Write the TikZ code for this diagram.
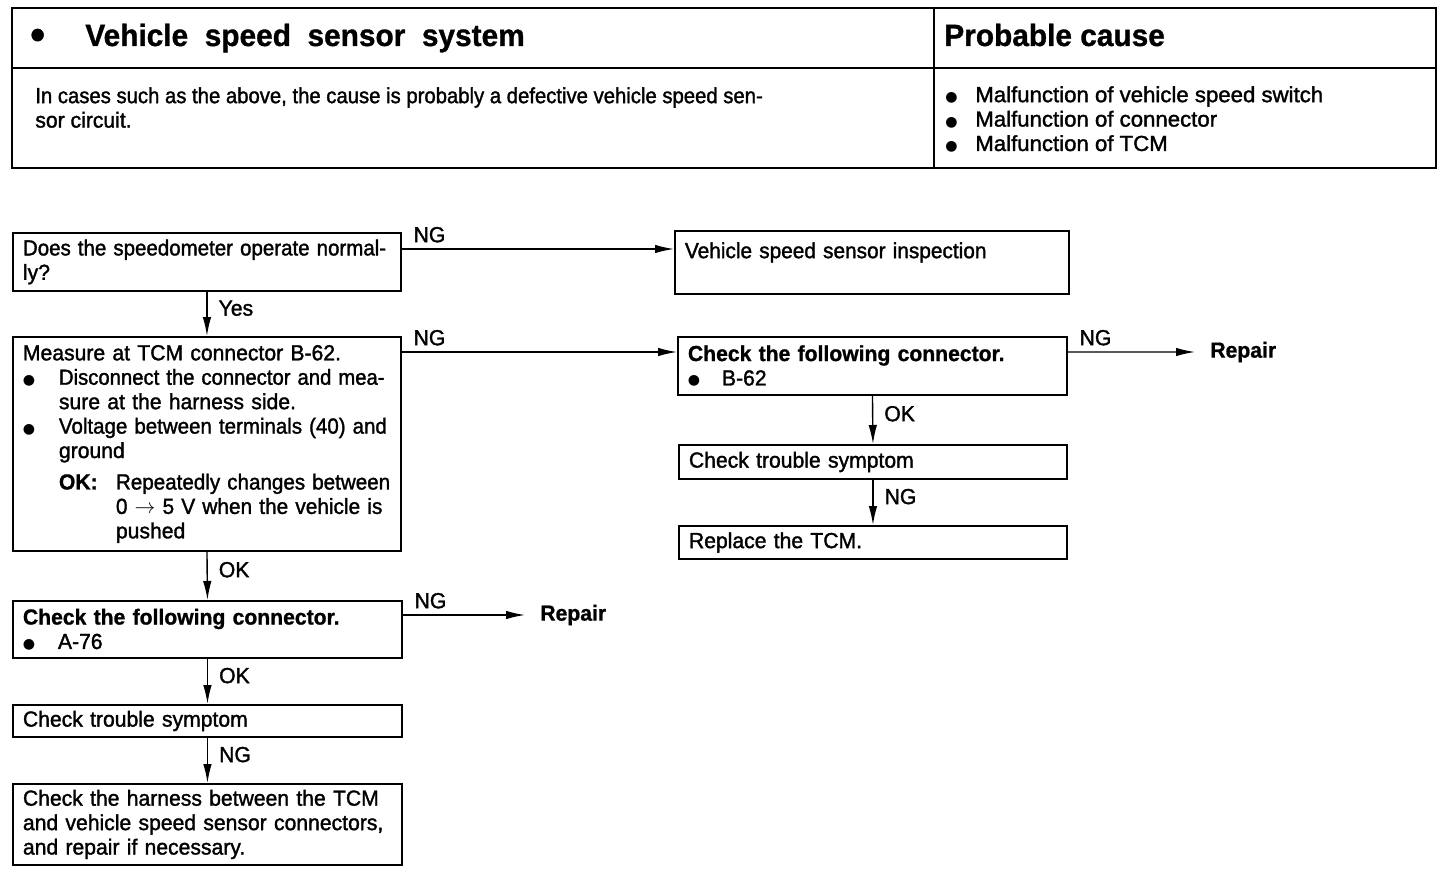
\documentclass[tikz,border=0pt]{standalone}
\usepackage{fontspec}
\setmainfont{Liberation Sans}[FakeStretch=0.97,
  UprightFeatures={FakeBold=1.5}, BoldFeatures={FakeBold=1}]
\newfontfamily\dotfont{DejaVu Sans}
\usetikzlibrary{arrows.meta,calc}

\newcommand{\flowsize}{\fontsize{12.4}{13.9}\selectfont}
\newcommand{\headsize}{\fontsize{17.5}{20}\selectfont\bfseries}
\newcommand{\itembul}[1]{\makebox[#1][l]{\raisebox{0.3pt}{\dotfont\fontsize{8}{8}\selectfont ●}}}
\newcommand{\squeeze}[2]{\scalebox{#1}[1]{#2}}

\tikzset{
  flowbox/.style={draw, line width=1.1pt, anchor=north west, align=left,
    inner xsep=0.2cm, inner ysep=0pt, font=\flowsize},
  flowarrow/.style={-{Latex[length=3.8mm,width=1.7mm]}, line width=0.8pt},
  flowlabel/.style={font=\flowsize, inner xsep=0.22cm},
  tableline/.style={line width=1.6pt},
}

\begin{document}
\begin{tikzpicture}
    \useasboundingbox (0,0) rectangle (29.12,-17.44);

    % Header table
    \draw[tableline] (0.24,-0.16) rectangle (28.72,-3.36);
    \draw[tableline] (0.24,-1.36) -- (28.72,-1.36);
    \draw[tableline] (18.68,-0.16) -- (18.68,-3.36);
    \node[anchor=base west, inner sep=0, font=\headsize] (titledot) at (0.60,-0.92) {\smash{\raisebox{-0.2ex}{\scalebox{1.4}{\textbullet}}}};
    \node[anchor=base west, inner sep=0, font=\headsize] (title) at (1.70,-0.92) {Vehicle\ \ speed\ \ sensor\ \ system};
    \node[anchor=base west, inner sep=0, font=\headsize] (causehead) at (18.88,-0.92) {Probable cause};
    \node[anchor=north west, inner sep=0, align=left, font=\flowsize] (intro) at (0.70,-1.74)
        {\squeeze{0.96}{In cases such as the above, the cause is probably a defective vehicle speed sen-}\\
         sor circuit.};
    \node[anchor=north west, inner sep=0, align=left, font=\flowsize] (causes) at (18.90,-1.72)
        {\itembul{0.6cm}\squeeze{1.05}{Malfunction of vehicle speed switch}\\
         \itembul{0.6cm}\squeeze{1.05}{Malfunction of connector}\\
         \itembul{0.6cm}\squeeze{1.05}{Malfunction of TCM}};

    % Left column
    \node[flowbox, text width=7.36cm, minimum height=1.16cm] (speedo) at (0.24,-4.64)
        {\squeeze{0.97}{Does the speedometer operate normal-}\\ly?};
    \node[flowbox, text width=7.36cm, minimum height=4.28cm] (measure) at (0.24,-6.72)
        {Measure at TCM connector B-62.\\
         \itembul{0.72cm}\squeeze{0.96}{Disconnect the connector and mea-}\\
         \hspace*{0.72cm}sure at the harness side.\\
         \itembul{0.72cm}\squeeze{0.97}{Voltage between terminals (40) and}\\
         \hspace*{0.72cm}ground\\[4pt]
         \hspace*{0.72cm}\makebox[1.14cm][l]{\bfseries OK:}\squeeze{0.975}{Repeatedly changes between}\\
         \hspace*{1.86cm}\squeeze{0.985}{0 $\rightarrow$ 5 V when the vehicle is}\\
         \hspace*{1.86cm}pushed};
    \node[flowbox, text width=7.38cm, minimum height=1.14cm] (conna) at (0.24,-12.00)
        {\textbf{Check the following connector.}\\\itembul{0.7cm}A-76};
    \node[flowbox, text width=7.38cm, minimum height=0.64cm] (symptoma) at (0.24,-14.08)
        {Check trouble symptom};
    \node[flowbox, text width=7.38cm, minimum height=1.62cm] (harness) at (0.24,-15.66)
        {Check the harness between the TCM\\and vehicle speed sensor connectors,\\and repair if necessary.};
    \node[anchor=west, inner xsep=0.3cm, font=\flowsize\bfseries] (repaira) at (10.50,-12.30) {Repair};

    % Right column
    \node[flowbox, text width=7.48cm, minimum height=1.26cm] (inspect) at (13.48,-4.60)
        {\squeeze{0.985}{Vehicle speed sensor inspection}\\\mbox{}};
    \node[flowbox, text width=7.38cm, minimum height=1.16cm] (connb) at (13.54,-6.72)
        {\textbf{Check the following connector.}\\\itembul{0.68cm}B-62};
    \node[flowbox, text width=7.36cm, minimum height=0.68cm] (symptomb) at (13.56,-8.88)
        {Check trouble symptom};
    \node[flowbox, text width=7.36cm, minimum height=0.66cm] (replace) at (13.56,-10.50)
        {Replace the TCM.};
    \node[anchor=west, inner xsep=0.3cm, font=\flowsize\bfseries] (repairb) at (23.90,-7.04) {Repair};

    % Connectors
    \draw[flowarrow] ([yshift=-0.34cm]speedo.north east) -- ([yshift=-0.34cm]speedo.north east -| inspect.west)
        node[flowlabel, above right, pos=0] (ngspeedo) {NG};
    \draw[flowarrow] (speedo.south) -- (measure.north) node[flowlabel, right, pos=0.37] (yes) {Yes};
    \draw[flowarrow] ([yshift=-0.32cm]measure.north east) -- ([yshift=-0.32cm]connb.north west)
        node[flowlabel, above right, pos=0] (ngmeasure) {NG};
    \draw[flowarrow] ([yshift=-0.32cm]connb.north east) -- (repairb.west)
        node[flowlabel, above right, pos=0] (ngconnb) {NG};
    \draw[flowarrow] (connb.south) -- (symptomb.north) node[flowlabel, right, pos=0.37] (okconnb) {OK};
    \draw[flowarrow] (symptomb.south) -- (replace.north) node[flowlabel, right, pos=0.37] (ngsymptomb) {NG};
    \draw[flowarrow] (measure.south) -- (conna.north) node[flowlabel, right, pos=0.37] (okmeasure) {OK};
    \draw[flowarrow] ([yshift=-0.30cm]conna.north east) -- (repaira.west)
        node[flowlabel, above right, pos=0] (ngconna) {NG};
    \draw[flowarrow] (conna.south) -- (symptoma.north) node[flowlabel, right, pos=0.37] (okconna) {OK};
    \draw[flowarrow] (symptoma.south) -- (harness.north) node[flowlabel, right, pos=0.37] (ngsymptoma) {NG};
\end{tikzpicture}
\end{document}
